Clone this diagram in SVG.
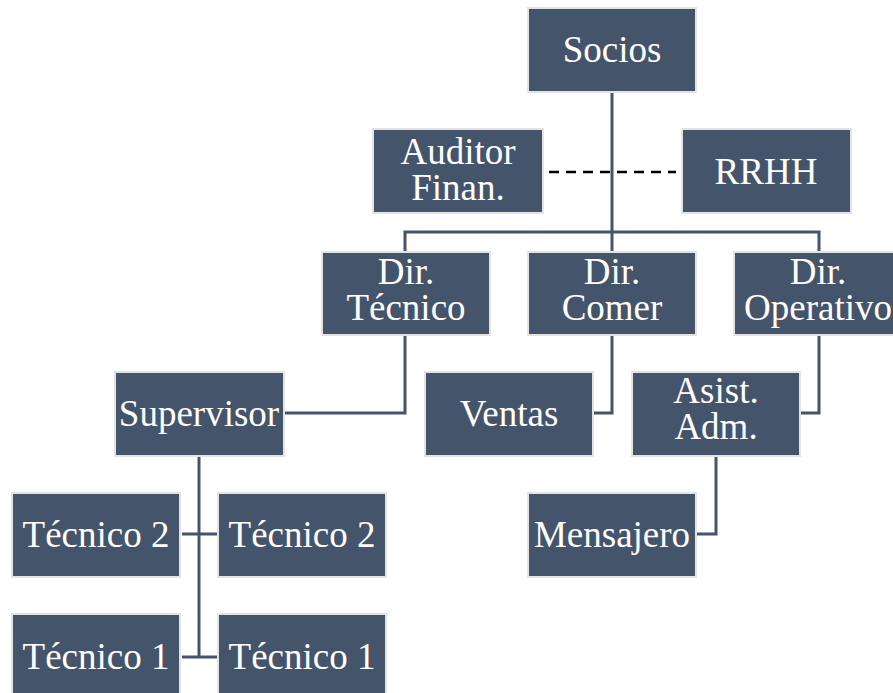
<svg xmlns="http://www.w3.org/2000/svg" width="893" height="693" viewBox="0 0 893 693">
<style>
.box{fill:#44546a;stroke:#e3e3e3;stroke-width:2}
.t{fill:#ffffff;font-family:"Liberation Serif","Times New Roman",serif;font-size:37px;text-anchor:middle}
.ln{fill:none;stroke:#44546a;stroke-width:3}
.dash{fill:none;stroke:#000000;stroke-width:2.5;stroke-dasharray:10 7}
</style>
<rect width="893" height="693" fill="#ffffff"/>
<g id="connectors">
<path class="dash" d="M549,172 H676"/>
<path class="ln" d="M612,92 V251"/>
<path class="ln" d="M405,251 V232 H819 V251"/>
<path class="ln" d="M405,335 V413 H285"/>
<path class="ln" d="M612,335 V413 H594"/>
<path class="ln" d="M819,335 V413 H801"/>
<path class="ln" d="M199,456 V657"/>
<path class="ln" d="M182,534 H217"/>
<path class="ln" d="M182,657 H217"/>
<path class="ln" d="M716,456 V534 H697"/>
</g>
<g id="socios"><rect class="box" x="528" y="8" width="168" height="84"/><text class="t" x="612" y="62">Socios</text></g>
<g id="auditor"><rect class="box" x="373" y="129" width="170" height="84"/><text class="t" x="458" y="164">Auditor</text><text class="t" x="458" y="200">Finan.</text></g>
<g id="rrhh"><rect class="box" x="682" y="129" width="169" height="84"/><text class="t" x="766" y="184">RRHH</text></g>
<g id="dir-tecnico"><rect class="box" x="322" y="252" width="168" height="83"/><text class="t" x="406" y="284">Dir.</text><text class="t" x="406" y="320">Técnico</text></g>
<g id="dir-comer"><rect class="box" x="528" y="252" width="168" height="83"/><text class="t" x="612" y="284">Dir.</text><text class="t" x="612" y="320">Comer</text></g>
<g id="dir-operativo"><rect class="box" x="734" y="252" width="168" height="83"/><text class="t" x="818" y="284">Dir.</text><text class="t" x="818" y="320">Operativo</text></g>
<g id="supervisor"><rect class="box" x="115" y="372" width="169" height="84"/><text class="t" x="199" y="426">Supervisor</text></g>
<g id="ventas"><rect class="box" x="425" y="372" width="168" height="84"/><text class="t" x="509" y="426">Ventas</text></g>
<g id="asist-adm"><rect class="box" x="632" y="372" width="168" height="84"/><text class="t" x="716" y="403">Asist.</text><text class="t" x="716" y="439">Adm.</text></g>
<g id="tecnico2-a"><rect class="box" x="12" y="493" width="168" height="84"/><text class="t" x="96" y="547">Técnico 2</text></g>
<g id="tecnico2-b"><rect class="box" x="218" y="493" width="168" height="84"/><text class="t" x="302" y="547">Técnico 2</text></g>
<g id="mensajero"><rect class="box" x="528" y="493" width="168" height="84"/><text class="t" x="612" y="547">Mensajero</text></g>
<g id="tecnico1-a"><rect class="box" x="12" y="614" width="168" height="84"/><text class="t" x="96" y="669">Técnico 1</text></g>
<g id="tecnico1-b"><rect class="box" x="218" y="614" width="168" height="84"/><text class="t" x="302" y="669">Técnico 1</text></g>
</svg>
